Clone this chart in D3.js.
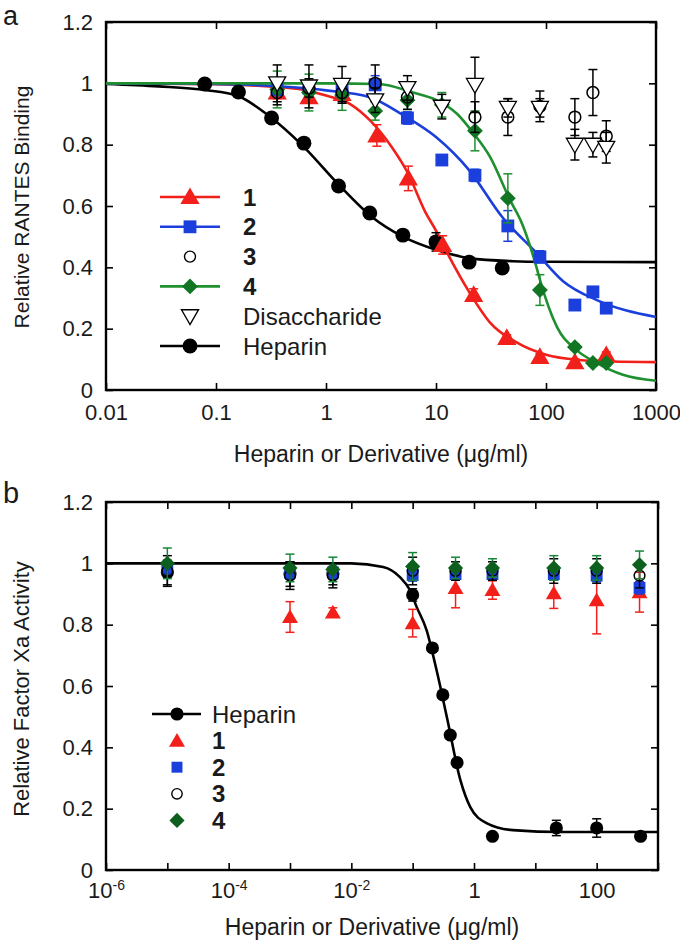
<!DOCTYPE html>
<html><head><meta charset="utf-8">
<script src="https://cdn.jsdelivr.net/npm/d3@7"></script>
<style>
body{margin:0;background:#fff}
svg{display:block}
text{font-family:"Liberation Sans",Arial,Helvetica,sans-serif;fill:#1a1a1a}
</style>
</head><body>
<svg id="c" width="680" height="946"></svg>
<script>
// ---------------- Panel a data (RANTES binding) ----------------
const aTicksX = [0.01, 0.1, 1, 10, 100, 1000];
const aTickLabels = ["0.01", "0.1", "1", "10", "100", "1000"];
const yTicks = [0, 0.2, 0.4, 0.6, 0.8, 1, 1.2];
const yTickLabels = ["0", "0.2", "0.4", "0.6", "0.8", "1", "1.2"];

const aHepX = [0.079, 0.16, 0.32, 0.63, 1.3, 2.5, 5, 10, 20, 40];
const aHepY = [0.998, 0.972, 0.887, 0.805, 0.665, 0.577, 0.505, 0.483, 0.417, 0.398];
const aHepE = [0, 0, 0, 0, 0, 0, 0, 0.03, 0, 0];
const aHepFitX = [0.01, 0.03, 0.08, 0.16, 0.3, 0.6, 1.3, 2.6, 5, 10, 20, 50, 100, 1000];
const aHepFitY = [0.998, 0.99, 0.978, 0.958, 0.895, 0.8, 0.67, 0.565, 0.5, 0.457, 0.43, 0.42, 0.418, 0.417];

const a1X = [0.36, 0.7, 1.4, 2.9, 5.6, 11.5, 22, 44, 88, 183, 353];
const a1Y = [0.97, 0.955, 0.965, 0.83, 0.69, 0.473, 0.31, 0.17, 0.108, 0.091, 0.114];
const a1E = [0.02, 0.02, 0.02, 0.035, 0.04, 0.03, 0.02, 0.01, 0.01, 0.01, 0.01];
const a1FitX = [0.01, 0.1, 0.3, 0.6, 1, 1.7, 2.5, 4, 5.5, 8, 10, 13.4, 20, 31, 54, 100, 200, 400, 1000];
const a1FitY = [1.0, 0.997, 0.99, 0.98, 0.96, 0.93, 0.88, 0.79, 0.71, 0.58, 0.52, 0.43, 0.32, 0.22, 0.155, 0.115, 0.098, 0.093, 0.091];

const a2X = [0.36, 0.7, 1.4, 2.8, 5.5, 11.3, 22.6, 45, 88, 183, 267, 353];
const a2Y = [0.98, 0.985, 0.975, 0.995, 0.887, 0.75, 0.70, 0.535, 0.434, 0.277, 0.32, 0.267];
const a2E = [0.02, 0.02, 0.02, 0.03, 0.02, 0.01, 0.02, 0.05, 0.02, 0.01, 0.01, 0.01];
const a2FitX = [0.01, 0.1, 0.5, 1, 2.5, 5, 10, 20, 40, 82, 143, 290, 1000];
const a2FitY = [1.0, 0.998, 0.987, 0.977, 0.955, 0.897, 0.825, 0.717, 0.564, 0.447, 0.355, 0.293, 0.238];

const a3X = [0.36, 0.7, 1.4, 2.8, 5.5, 22.6, 45, 88, 183, 267, 353];
const a3Y = [0.97, 0.985, 0.97, 1.0, 0.955, 0.89, 0.89, 0.925, 0.89, 0.97, 0.828];
const a3E = [0.04, 0.03, 0.03, 0.06, 0.04, 0.05, 0.06, 0.05, 0.06, 0.075, 0.05];

const a4X = [0.36, 0.7, 1.4, 2.8, 5.5, 11.3, 22.6, 45, 88, 183, 267, 353];
const a4Y = [0.98, 0.97, 0.962, 0.91, 0.945, 0.93, 0.845, 0.625, 0.326, 0.14, 0.088, 0.088];
const a4E = [0.06, 0.06, 0.05, 0.03, 0.03, 0.04, 0.065, 0.08, 0.05, 0.01, 0.01, 0.01];
const a4FitX = [0.01, 1, 3, 6.2, 10, 15.6, 21.6, 31, 47, 61, 82, 88, 126, 190, 290, 500, 1000];
const a4FitY = [1.0, 1.0, 0.998, 0.97, 0.946, 0.9, 0.84, 0.76, 0.62, 0.54, 0.40, 0.36, 0.205, 0.13, 0.088, 0.05, 0.03];

const aDiX = [0.36, 0.7, 1.4, 2.8, 5.5, 11.3, 22.6, 45, 88, 183, 267, 353];
const aDiY = [1.0, 0.99, 0.995, 0.945, 0.985, 0.924, 0.995, 0.92, 0.92, 0.80, 0.80, 0.79];
const aDiE = [0.06, 0.07, 0.06, 0.04, 0.04, 0.04, 0.09, 0.03, 0.03, 0.05, 0.04, 0.05];

// ---------------- Panel b data (Factor Xa activity) ----------------
const bTicksX = [1e-6, 1e-5, 1e-4, 1e-3, 1e-2, 1e-1, 1, 10, 100, 1000];
const bLabelExp = [-6, -4, -2, 0, 2];

const bHepX = [1e-5, 1e-3, 0.005, 0.1, 0.21, 0.31, 0.41, 0.53, 2, 22, 100, 520];
const bHepY = [0.97, 0.965, 0.965, 0.897, 0.724, 0.571, 0.44, 0.35, 0.11, 0.137, 0.137, 0.11];
const bHepE = [0.04, 0.04, 0.035, 0.02, 0, 0, 0, 0, 0.01, 0.025, 0.03, 0.01];
const bHepFitX = [1e-6, 0.01, 0.033, 0.062, 0.09, 0.116, 0.168, 0.245, 0.36, 0.6, 0.87, 1.6, 4.3, 28, 1000];
const bHepFitY = [1.0, 1.0, 0.988, 0.955, 0.913, 0.858, 0.783, 0.652, 0.5, 0.293, 0.205, 0.153, 0.13, 0.124, 0.124];

const bConc = [1e-5, 1e-3, 0.005, 0.1, 0.5, 2, 20, 100, 500];
const b1X = [1e-3, 0.005, 0.1, 0.5, 2, 20, 100, 500];
const b1Y = [0.825, 0.84, 0.805, 0.92, 0.913, 0.903, 0.88, 0.906];
const b1E = [0.05, 0.015, 0.045, 0.065, 0.03, 0.05, 0.11, 0.065];
const b2Y = [0.985, 0.97, 0.97, 0.962, 0.965, 0.965, 0.965, 0.96, 0.92];
const b2E = [0.02, 0.02, 0.02, 0.02, 0.02, 0.02, 0.02, 0.02, 0.02];
const b3Y = [0.975, 0.96, 0.96, 0.975, 0.975, 0.975, 0.975, 0.975, 0.96];
const b3E = [0.05, 0.045, 0.04, 0.045, 0.03, 0.03, 0.04, 0.04, 0.04];
const b4Y = [1.0, 0.985, 0.98, 0.99, 0.985, 0.985, 0.985, 0.985, 0.995];
const b4E = [0.05, 0.045, 0.04, 0.045, 0.035, 0.03, 0.04, 0.04, 0.045];

// ---------------- styles ----------------
const RED = '#f2201a', BLUE = '#1b3fdc', GLINE = '#1f9030', GREEN = '#117524', GREENB = '#0d5f1d';
const svg = d3.select('#c');
const zip = (xs, ys, es) => xs.map((v, i) => ({x: v, y: ys[i], e: es ? es[i] : 0}));

function symbolPath(kind, area) {
  const types = {tri: d3.symbolTriangle, sq: d3.symbolSquare, circ: d3.symbolCircle, dia: d3.symbolSquare, tdown: d3.symbolTriangle};
  return d3.symbol().type(types[kind]).size(area)();
}
function marker(g, kind, cx, cy, area, fill, stroke, sw) {
  const rot = kind === 'dia' ? 45 : (kind === 'tdown' ? 180 : 0);
  const dy = kind === 'tri' ? 1.5 : (kind === 'tdown' ? -1.5 : 0);
  g.append('path').attr('d', symbolPath(kind, area))
    .attr('transform', `translate(${cx},${cy + dy}) rotate(${rot})`)
    .attr('fill', fill).attr('stroke', stroke || 'none').attr('stroke-width', sw || 0);
}

function makePanel(o) {
  const x = d3.scaleLog().domain(o.xDomain).range([o.left, o.right]);
  const y = d3.scaleLinear().domain([0, 1.2]).range([o.bottom, o.top]);
  const g = svg.append('g');
  const ax = g.append('g');
  const tk = 7;
  const xb = ax.append('g').attr('transform', `translate(0,${o.bottom})`)
    .call(d3.axisBottom(x).tickValues(o.xTicks).tickSize(-tk).tickPadding(o.xPad).tickFormat(o.xFmt));
  ax.append('g').attr('transform', `translate(0,${o.top})`)
    .call(d3.axisTop(x).tickValues(o.xTicks).tickSize(-tk).tickFormat(''));
  ax.append('g').attr('transform', `translate(${o.left},0)`)
    .call(d3.axisLeft(y).tickValues(yTicks).tickSize(-tk).tickPadding(13).tickFormat((d, i) => yTickLabels[i]));
  ax.append('g').attr('transform', `translate(${o.right},0)`)
    .call(d3.axisRight(y).tickValues(yTicks).tickSize(-tk).tickFormat(''));
  ax.selectAll('.domain').remove();
  ax.selectAll('.tick line').attr('stroke', '#000').attr('stroke-width', 1.6);
  ax.selectAll('.tick text').attr('font-size', 22).attr('fill', '#1a1a1a')
    .style('font-family', '"Liberation Sans",Arial,sans-serif');
  g.append('rect').attr('x', o.left).attr('y', o.top).attr('width', o.right - o.left).attr('height', o.bottom - o.top)
    .attr('fill', 'none').attr('stroke', '#000').attr('stroke-width', 2.4);
  return {g, x, y, xb};
}

function curve(p, xs, ys, color, w) {
  const line = d3.line().x(d => p.x(d[0])).y(d => p.y(d[1])).curve(d3.curveMonotoneX);
  p.g.append('path').attr('d', line(xs.map((v, i) => [v, ys[i]])))
    .attr('fill', 'none').attr('stroke', color).attr('stroke-width', w || 2.6).attr('stroke-linejoin', 'round');
}
function points(p, data, kind, area, fill, stroke, sw, ecolor) {
  const eg = p.g.append('g').attr('stroke', ecolor).attr('stroke-width', 1.5);
  data.forEach(d => {
    if (d.e > 0) {
      const cx = p.x(d.x), y1 = p.y(d.y - d.e), y2 = p.y(d.y + d.e);
      eg.append('line').attr('x1', cx).attr('x2', cx).attr('y1', y1).attr('y2', y2);
      eg.append('line').attr('x1', cx - 4.5).attr('x2', cx + 4.5).attr('y1', y1).attr('y2', y1);
      eg.append('line').attr('x1', cx - 4.5).attr('x2', cx + 4.5).attr('y1', y2).attr('y2', y2);
    }
  });
  const mg = p.g.append('g');
  data.forEach(d => marker(mg, kind, p.x(d.x), p.y(d.y), area, fill, stroke, sw));
}

// ---------------- Panel a ----------------
const pa = makePanel({xDomain: [0.01, 1000], left: 106, right: 656, top: 22, bottom: 390,
  xTicks: aTicksX, xPad: 14, xFmt: (d, i) => aTickLabels[i]});

curve(pa, aHepFitX, aHepFitY, '#000');
curve(pa, a1FitX, a1FitY, RED);
curve(pa, a2FitX, a2FitY, BLUE);
curve(pa, a4FitX, a4FitY, GLINE);
points(pa, zip(aHepX, aHepY, aHepE), 'circ', 175, '#000', null, 0, '#000');
points(pa, zip(a1X, a1Y, a1E), 'tri', 160, RED, null, 0, RED);
points(pa, zip(a2X, a2Y, a2E), 'sq', 165, BLUE, null, 0, BLUE);
points(pa, zip(a4X, a4Y, a4E), 'dia', 125, GREEN, null, 0, GLINE);
points(pa, zip(a3X, a3Y, a3E), 'circ', 110, 'none', '#000', 1.5, '#000');
points(pa, zip(aDiX, aDiY, aDiE), 'tdown', 125, '#fff', '#000', 1.3, '#000');

// legend a
const la = svg.append('g');
const legA = [
  {lab: '1', kind: 'tri', col: RED, line: RED, area: 160, bold: true},
  {lab: '2', kind: 'sq', col: BLUE, line: BLUE, area: 165, bold: true},
  {lab: '3', kind: 'circ', col: 'none', stroke: '#000', line: null, area: 95, bold: true},
  {lab: '4', kind: 'dia', col: GREEN, line: GLINE, area: 125, bold: true},
  {lab: 'Disaccharide', kind: 'tdown', col: '#fff', stroke: '#000', line: null, area: 125, bold: false},
  {lab: 'Heparin', kind: 'circ', col: '#000', line: '#000', area: 175, bold: false}
];
legA.forEach((d, i) => {
  const cy = 197 + i * 29.8;
  if (d.line) la.append('line').attr('x1', 160).attr('x2', 220).attr('y1', cy).attr('y2', cy)
    .attr('stroke', d.line).attr('stroke-width', 2.6);
  marker(la, d.kind, 190, cy, d.area, d.col, d.stroke, d.stroke ? 1.4 : 0);
  la.append('text').attr('x', 243).attr('y', cy).attr('dy', '0.36em').attr('font-size', 24)
    .attr('font-weight', d.bold ? 'bold' : 'normal').text(d.lab);
});

svg.append('text').attr('x', 3).attr('y', 25).attr('font-size', 27).text('a');
svg.append('text').attr('x', 381).attr('y', 462).attr('text-anchor', 'middle').attr('font-size', 23)
  .text('Heparin or Derivative (\u03bcg/ml)');
svg.append('text').attr('transform', 'translate(29,207) rotate(-90)').attr('text-anchor', 'middle')
  .attr('font-size', 21).text('Relative RANTES Binding');

// ---------------- Panel b ----------------
const pb = makePanel({xDomain: [1e-6, 1000], left: 106, right: 658, top: 502, bottom: 870,
  xTicks: bTicksX, xPad: 12, xFmt: () => ''});
// superscript decade labels
pb.xb.selectAll('.tick').each(function(d) {
  const e = Math.round(Math.log10(d));
  if (bLabelExp.indexOf(e) < 0) return;
  const t = d3.select(this).select('text').attr('dy', '0.71em');
  if (e === 0) { t.text('1'); return; }
  if (e === 2) { t.text('100'); return; }
  t.append('tspan').text('10');
  t.append('tspan').attr('font-size', 14).attr('dy', '-0.55em').text(String(e));
});

curve(pb, bHepFitX, bHepFitY, '#000');
points(pb, zip(bHepX, bHepY, bHepE), 'circ', 135, '#000', null, 0, '#000');
points(pb, zip(b1X, b1Y, b1E), 'tri', 110, RED, null, 0, RED);
points(pb, zip(bConc, b2Y, b2E), 'sq', 140, BLUE, null, 0, BLUE);
points(pb, zip(bConc, b3Y, b3E), 'circ', 90, 'none', '#000', 1.5, '#000');
points(pb, zip(bConc, b4Y, b4E), 'dia', 115, GREENB, null, 0, '#17863a');

const lb = svg.append('g');
const legB = [
  {lab: 'Heparin', kind: 'circ', col: '#000', line: '#000', area: 135, bold: false},
  {lab: '1', kind: 'tri', col: RED, area: 110, bold: true},
  {lab: '2', kind: 'sq', col: BLUE, area: 120, bold: true},
  {lab: '3', kind: 'circ', col: 'none', stroke: '#000', area: 85, bold: true},
  {lab: '4', kind: 'dia', col: GREENB, area: 115, bold: true}
];
legB.forEach((d, i) => {
  const cy = 714 + i * 26.6;
  if (d.line) lb.append('line').attr('x1', 152).attr('x2', 201).attr('y1', cy).attr('y2', cy)
    .attr('stroke', d.line).attr('stroke-width', 2.4);
  marker(lb, d.kind, 177, cy, d.area, d.col, d.stroke, d.stroke ? 1.4 : 0);
  lb.append('text').attr('x', 212).attr('y', cy).attr('dy', '0.36em').attr('font-size', 24)
    .attr('font-weight', d.bold ? 'bold' : 'normal').text(d.lab);
});

svg.append('text').attr('x', 3).attr('y', 503).attr('font-size', 29).text('b');
svg.append('text').attr('x', 372).attr('y', 935).attr('text-anchor', 'middle').attr('font-size', 23)
  .text('Heparin or Derivative (\u03bcg/ml)');
svg.append('text').attr('transform', 'translate(29,689) rotate(-90)').attr('text-anchor', 'middle')
  .attr('font-size', 22).text('Relative Factor Xa Activity');
</script>
</body></html>
